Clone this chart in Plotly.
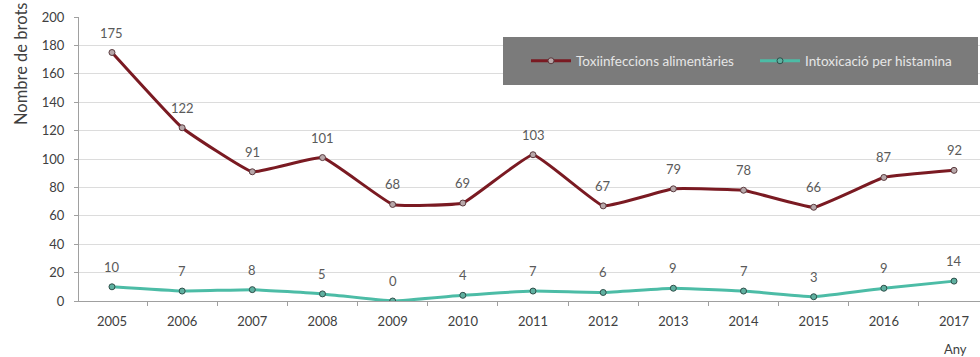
import plotly.graph_objects as go

years = ["2005", "2006", "2007", "2008", "2009", "2010", "2011",
         "2012", "2013", "2014", "2015", "2016", "2017"]
toxiinfeccions = [175, 122, 91, 101, 68, 69, 103, 67, 79, 78, 66, 87, 92]
histamina = [10, 7, 8, 5, 0, 4, 7, 6, 9, 7, 3, 9, 14]
y_ticks = [0, 20, 40, 60, 80, 100, 120, 140, 160, 180, 200]

FONT = "Lato, 'Open Sans', sans-serif"
RED = "#7a1a22"
TEAL = "#4cbca6"
LABEL_COLOR = "#5a5a5a"

fig = go.Figure()
fig.add_trace(go.Scatter(
    x=years, y=toxiinfeccions, name="Toxiinfeccions alimentàries",
    mode="lines+markers",
    line=dict(color=RED, width=3, shape="spline", smoothing=0.3),
    marker=dict(size=6, color="#b8a8aa", line=dict(color="#5a3a3e", width=1)),
))
fig.add_trace(go.Scatter(
    x=years, y=histamina, name="Intoxicació per histamina",
    mode="lines+markers",
    line=dict(color=TEAL, width=3, shape="spline", smoothing=0.3),
    marker=dict(size=6, color="#5fb0a0", line=dict(color="#2f4f4a", width=1)),
))

# value labels floating above each point (x given as category index)
annotations = []
for series in (toxiinfeccions, histamina):
    for i, v in enumerate(series):
        annotations.append(dict(
            x=i, y=v, text=str(v), showarrow=False, xanchor="center",
            yanchor="middle", yshift=20,
            font=dict(size=13, color=LABEL_COLOR),
        ))
# axis titles
annotations.append(dict(
    text="Any", xref="paper", yref="paper", x=(955 - 79) / 901, y=-0.135,
    xanchor="center", yanchor="top", showarrow=False,
    font=dict(size=13, color="#404040"),
))
annotations.append(dict(
    text="Nombre de brots", xref="paper", yref="paper",
    x=(21 - 79) / 901, y=1 - (64 - 17) / 284, textangle=-90,
    xanchor="center", yanchor="middle", showarrow=False,
    font=dict(size=16.5, color="#404040"),
))

fig.update_layout(
    width=980, height=357,
    margin=dict(l=79, r=0, t=17, b=56, autoexpand=False),
    paper_bgcolor="white", plot_bgcolor="white",
    font=dict(family=FONT, size=13, color="#404040"),
    showlegend=True,
    legend=dict(
        orientation="h", x=(526 - 79) / 901, y=1 - (61 - 17) / 284,
        xanchor="left", yanchor="middle",
        bgcolor="rgba(0,0,0,0)", font=dict(size=13.5, color="#e6e6e6"),
        entrywidth=174, itemwidth=40,
    ),
    shapes=[dict(
        type="rect", xref="paper", yref="paper",
        x0=(503 - 79) / 901, x1=(978 - 79) / 901,
        y0=1 - (85 - 17) / 284, y1=1 - (37 - 17) / 284,
        fillcolor="#7b7b7b", line=dict(width=0), layer="above",
    )],
    annotations=annotations,
)
fig.update_xaxes(
    type="category", range=[-0.47, 12.37], tickson="boundaries",
    ticks="outside", ticklen=4, tickcolor="#a0a0a0", ticklabelstandoff=8,
    showline=True, linecolor="#a0a0a0", showgrid=False,
    tickfont=dict(size=13, color="#404040"),
)
fig.update_yaxes(
    range=[0, 200], tickvals=y_ticks, ticks="outside", ticklen=4,
    tickcolor="#a0a0a0", showline=True, linecolor="#a0a0a0",
    ticklabelstandoff=7,
    gridcolor="#dcdcdc", zeroline=False,
    tickfont=dict(size=13, color="#404040"),
)

fig.write_html("out.html")
